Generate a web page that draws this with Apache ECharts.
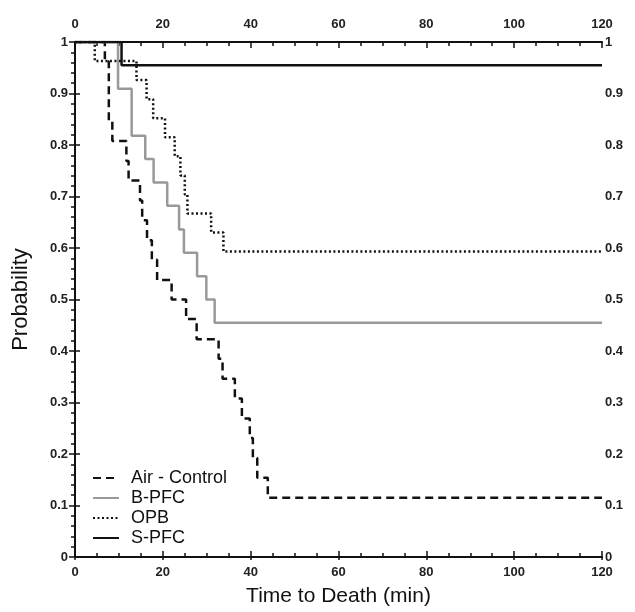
<!DOCTYPE html>
<html>
<head>
<meta charset="utf-8">
<title>Time to Death</title>
<script src="https://cdn.jsdelivr.net/npm/echarts@6/dist/echarts.min.js"></script>
<style>
  html, body { margin: 0; padding: 0; background: #fff; }
  #main { width: 635px; height: 612px; }
</style>
</head>
<body>
<div id="main"></div>
<script>
// step curves: drop times (min) and probability after each drop
var airTimes = [0, 6.8, 7.7, 8.5, 11.7, 12.2, 14.8, 15.3, 16.4, 17.5, 18.7, 22.0, 25.3, 27.7, 32.7, 33.6, 36.4, 38.0, 39.8, 40.5, 41.5, 43.9, 120];
var airProb  = [1, 0.962, 0.846, 0.808, 0.769, 0.731, 0.692, 0.654, 0.615, 0.577, 0.538, 0.5, 0.462, 0.423, 0.385, 0.346, 0.308, 0.269, 0.231, 0.192, 0.154, 0.115, 0.115];

var bpfcTimes = [0, 9.8, 12.9, 16.0, 17.9, 21.0, 23.7, 24.8, 27.8, 29.9, 31.8, 120];
var bpfcProb  = [1, 0.909, 0.818, 0.773, 0.727, 0.682, 0.636, 0.591, 0.545, 0.5, 0.455, 0.455];

var opbTimes = [0, 4.5, 14.0, 16.3, 17.8, 20.5, 22.7, 24.0, 25.0, 25.6, 31.0, 33.8, 120];
var opbProb  = [1, 0.963, 0.926, 0.889, 0.852, 0.815, 0.778, 0.741, 0.704, 0.667, 0.630, 0.593, 0.593];

var spfcTimes = [0, 10.6, 120];
var spfcProb  = [1, 0.955, 0.955];

var legendNames = ['Air - Control', 'B-PFC', 'OPB', 'S-PFC'];

function pairs(t, p) {
  return t.map(function (v, i) { return [v, p[i]]; });
}

var myChart = echarts.init(document.getElementById('main'));

var FONT = 'Liberation Sans, Arial, sans-serif';
var lblFont = { fontFamily: FONT, fontSize: 13, fontWeight: 'bold', color: '#222' };
var axLine = { show: true, lineStyle: { color: '#111', width: 2 } };
var tickLine = { color: '#111', width: 1.5 };

function yLabel(v) {
  if (v === 0 || v === 1) return String(v);
  return v.toFixed(1);
}

// main axis: labels + short outward major ticks; inner axis: inward major + minor ticks
function xAx(pos, main) {
  return {
    type: 'value', position: pos, min: 0, max: 120, interval: 20,
    axisLine: axLine,
    splitLine: { show: false },
    axisLabel: main ? Object.assign({ show: true, margin: pos === 'top' ? 11 : 9 }, lblFont) : { show: false },
    axisTick: main ? { show: true, inside: false, length: 3, lineStyle: tickLine }
                   : { show: true, inside: true, length: 6, lineStyle: tickLine },
    minorTick: main ? { show: false } : { show: true, splitNumber: 4, length: 4, lineStyle: tickLine },
    name: (main && pos === 'bottom') ? 'Time to Death (min)' : '',
    nameLocation: 'middle', nameGap: 29,
    nameTextStyle: { fontFamily: FONT, fontSize: 21, color: '#111' }
  };
}

function yAx(pos, main) {
  var left = pos === 'left';
  return {
    type: 'value', position: pos, min: 0, max: 1, interval: 0.1,
    axisLine: axLine,
    splitLine: { show: false },
    axisLabel: main ? Object.assign({ show: true, margin: left ? 7 : 3, formatter: yLabel }, lblFont) : { show: false },
    axisTick: main ? { show: true, inside: false, length: left ? 6 : 5, lineStyle: tickLine }
                   : { show: true, inside: true, length: 6, lineStyle: tickLine },
    minorTick: (main && !left) ? { show: false } : { show: true, splitNumber: 5, length: 4, lineStyle: tickLine },
    name: (main && left) ? 'Probability' : '',
    nameLocation: 'middle', nameGap: 43,
    nameTextStyle: { fontFamily: FONT, fontSize: 22, color: '#111' }
  };
}

var option = {
  backgroundColor: '#fff',
  animation: false,
  grid: { left: 75, right: 33, top: 42, bottom: 48 },
  legend: {
    orient: 'vertical', left: 92, top: 469, padding: 0,
    itemWidth: 26, itemHeight: 14, itemGap: 2,
    itemStyle: { opacity: 0 },
    textStyle: { fontFamily: FONT, fontSize: 18, color: '#111', padding: [0, 0, 0, 7] },
    data: legendNames
  },
  xAxis: [xAx('bottom', true), xAx('bottom', false), xAx('top', true), xAx('top', false)],
  yAxis: [yAx('left', true), yAx('right', true), yAx('right', false)],
  series: [
    {
      name: legendNames[0], type: 'line', step: 'end', symbol: 'none',
      data: pairs(airTimes, airProb),
      lineStyle: { color: '#111', width: 2.5, type: [8, 5], cap: 'butt' },
      itemStyle: { color: '#111' }
    },
    {
      name: legendNames[1], type: 'line', step: 'end', symbol: 'none',
      data: pairs(bpfcTimes, bpfcProb),
      lineStyle: { color: '#999', width: 2.5 },
      itemStyle: { color: '#999' }
    },
    {
      name: legendNames[2], type: 'line', step: 'end', symbol: 'none',
      data: pairs(opbTimes, opbProb),
      lineStyle: { color: '#111', width: 2.5, type: [2, 2.5], cap: 'butt' },
      itemStyle: { color: '#111' }
    },
    {
      name: legendNames[3], type: 'line', step: 'end', symbol: 'none',
      data: pairs(spfcTimes, spfcProb),
      lineStyle: { color: '#111', width: 2.5 },
      itemStyle: { color: '#111' }
    }
  ]
};

myChart.setOption(option);
</script>
</body>
</html>
